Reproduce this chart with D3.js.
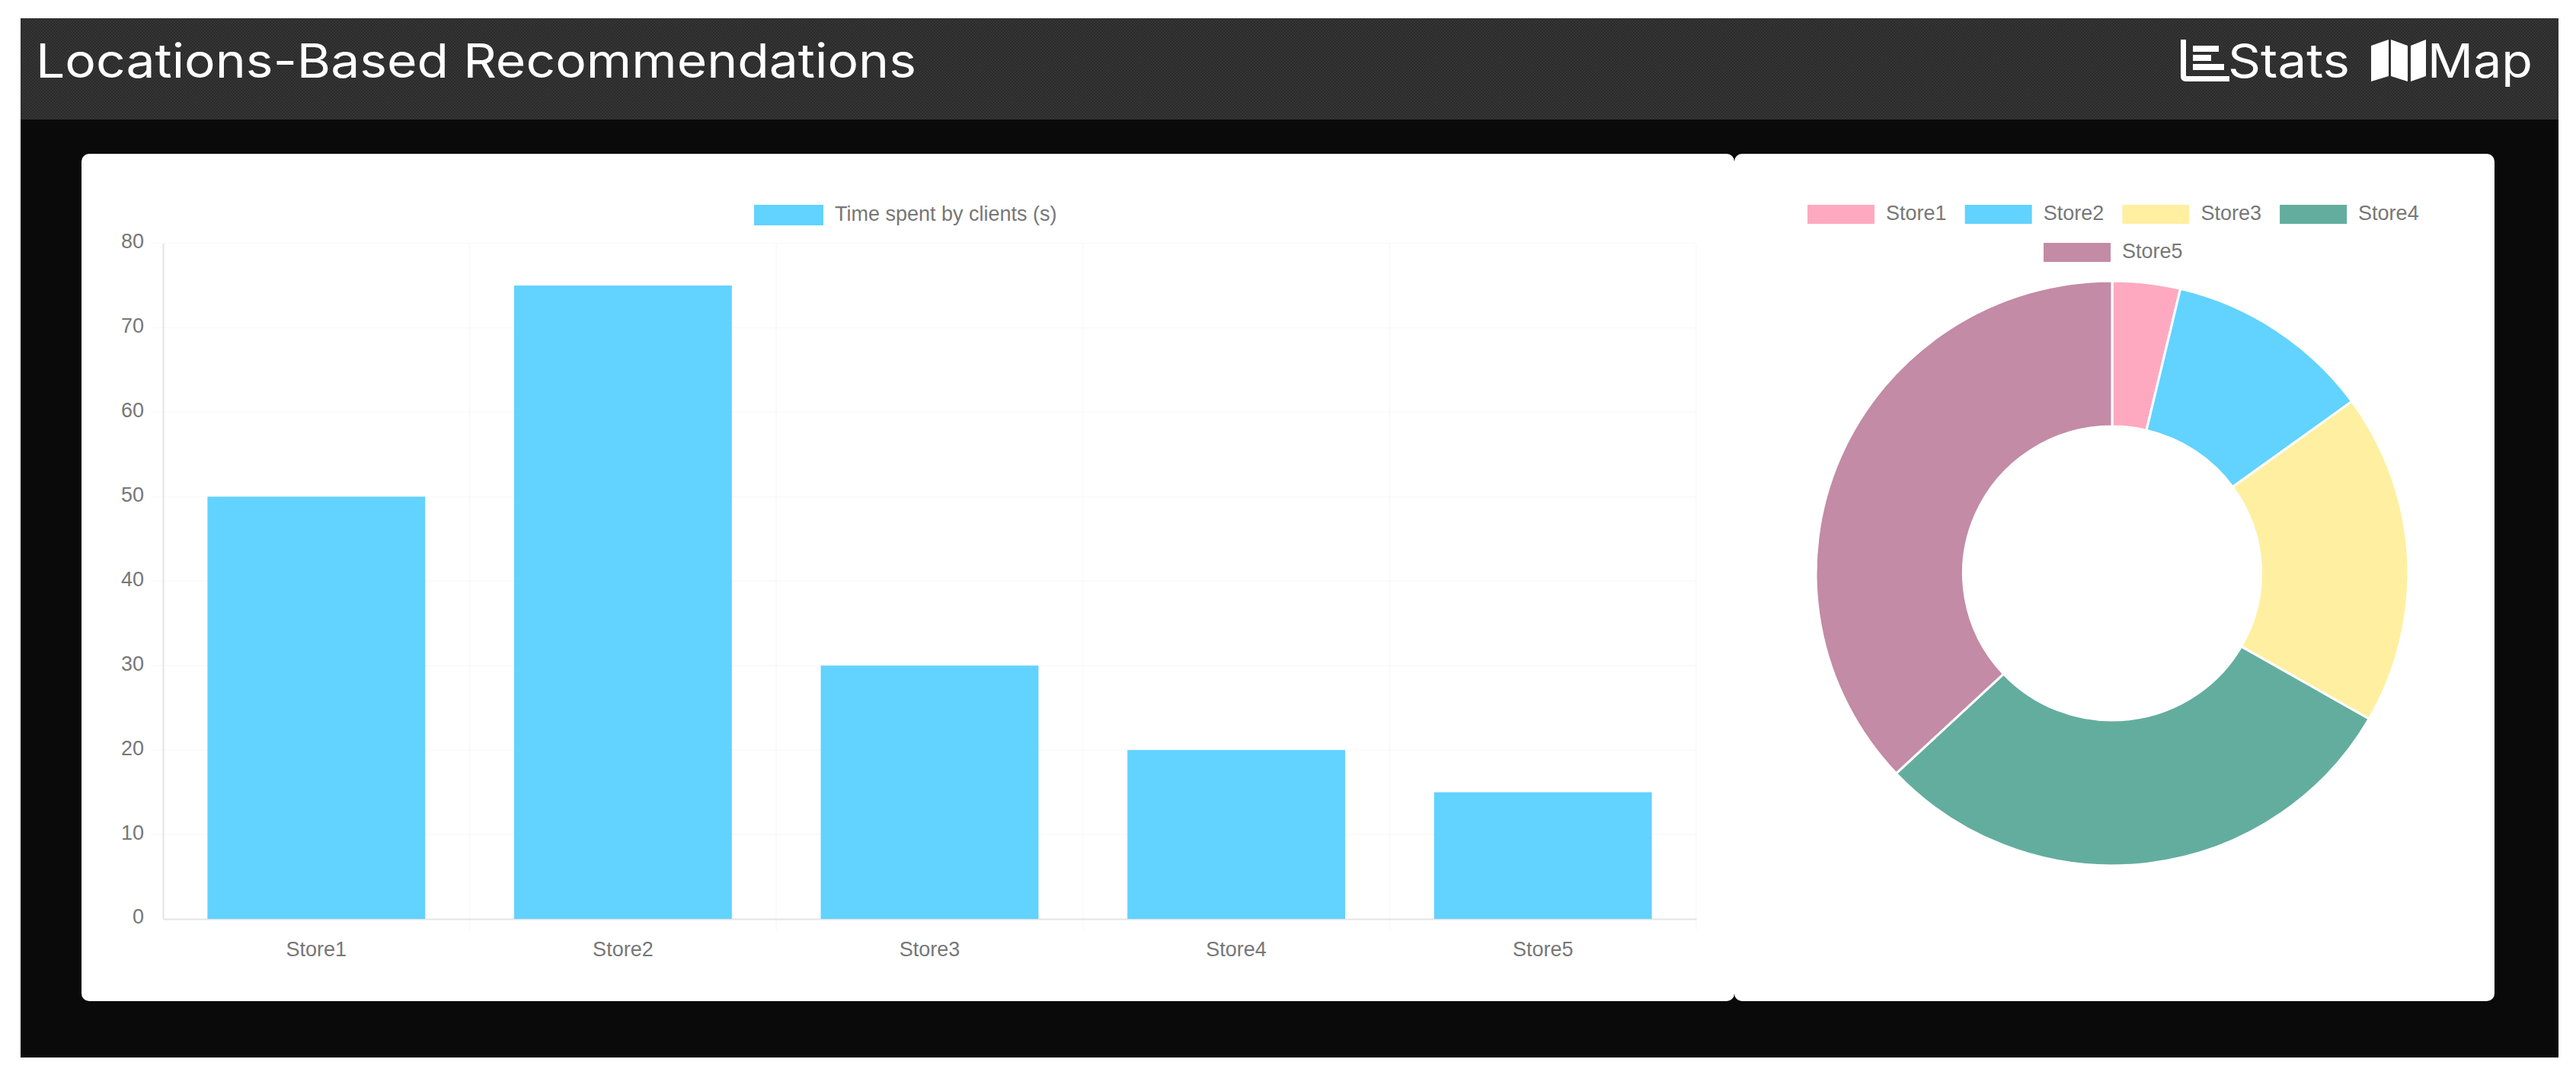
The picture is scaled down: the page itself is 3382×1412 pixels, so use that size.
<!DOCTYPE html>
<html>
<head>
<meta charset="utf-8">
<title>Locations-Based Recommendations</title>
<script src="https://cdn.jsdelivr.net/npm/d3@7"></script>
<style>
    html, body { margin: 0; padding: 0; background: #fff; }
    svg { display: block; }
    text { font-family: "Liberation Sans", Arial, sans-serif; }
    .nav-text { font-family: Inter, "Open Sans", sans-serif; fill: #fff; font-weight: 400; }
    .tick-label { font-size: 27px; fill: #777; }
    .grid line { stroke: #000; stroke-opacity: 0.02; stroke-width: 2; }
</style>
</head>
<body>
<svg id="chart" width="3382" height="1412"></svg>
<script>
const stores = ["Store1", "Store2", "Store3", "Store4", "Store5"];
const timeSpent = [50, 75, 30, 20, 15];
const shareValues = [3.7, 11.3, 18.3, 29.7, 37];
const yTicks = [0, 10, 20, 30, 40, 50, 60, 70, 80];
const shareColors = ["#ffa9c0", "#62d2ff", "#ffefa1", "#63ad9f", "#c38ba5"];
const barColor = "#62d2ff";
const barLegendLabel = "Time spent by clients (s)";
const pageTitle = "Locations-Based Recommendations";

const svg = d3.select("#chart");

// Fine dither seen on the dark header
const defs = svg.append("defs");
const dither = defs.append("pattern").attr("id", "dither")
    .attr("width", 4).attr("height", 4).attr("patternUnits", "userSpaceOnUse");
dither.append("rect").attr("width", 4).attr("height", 4).attr("fill", "#2b2b2b");
dither.append("rect").attr("width", 2).attr("height", 2).attr("fill", "#353535");
dither.append("rect").attr("x", 2).attr("y", 2).attr("width", 2).attr("height", 2).attr("fill", "#353535");

// Page background and header
svg.append("rect").attr("x", 27).attr("y", 24).attr("width", 3332).attr("height", 1365).attr("fill", "#0a0a0a");
svg.append("rect").attr("x", 27).attr("y", 24).attr("width", 3332).attr("height", 133).attr("fill", "url(#dither)");

// Two cards side by side, the rounded corners leave the small notches where they meet
svg.append("rect").attr("x", 107).attr("y", 202).attr("width", 2170).attr("height", 1113).attr("rx", 10).attr("fill", "#fff");
svg.append("rect").attr("x", 2277).attr("y", 202).attr("width", 998).attr("height", 1113).attr("rx", 10).attr("fill", "#fff");

// Header texts
svg.append("text").attr("class", "nav-text").attr("x", 47).attr("y", 102)
    .attr("font-size", 62).attr("textLength", 1156).attr("lengthAdjust", "spacingAndGlyphs")
    .text(pageTitle);
svg.append("text").attr("class", "nav-text").attr("x", 2925).attr("y", 102)
    .attr("font-size", 62).attr("textLength", 160).attr("lengthAdjust", "spacingAndGlyphs")
    .text("Stats");
svg.append("text").attr("class", "nav-text").attr("x", 3187).attr("y", 102)
    .attr("font-size", 62).attr("textLength", 138).attr("lengthAdjust", "spacingAndGlyphs")
    .text("Map");

// Stats icon
const statsIcon = svg.append("g").attr("fill", "#fff");
statsIcon.append("path")
    .attr("d", "M2863 52h7v47q0 1 1 1h56v7h-57q-7 0-7-7z");
statsIcon.append("rect").attr("x", 2879).attr("y", 60).attr("width", 34).attr("height", 8);
statsIcon.append("rect").attr("x", 2879).attr("y", 72).attr("width", 24).attr("height", 8);
statsIcon.append("rect").attr("x", 2879).attr("y", 84).attr("width", 41).attr("height", 8);

// Map icon
const mapIcon = svg.append("g").attr("fill", "#fff");
mapIcon.append("path").attr("d", "M3113 60l23-8v48l-23 7z");
mapIcon.append("path").attr("d", "M3139 52l22 8v47l-22-7z");
mapIcon.append("path").attr("d", "M3165 60l20-8v48l-20 7z");

// Bar chart
const x = d3.scaleBand().domain(stores).range([214, 2227]).paddingInner(0).paddingOuter(0);
const y = d3.scaleLinear().domain([0, 80]).range([1207, 319.6]);
const barWidth = x.bandwidth() * 0.71;

const grid = svg.append("g").attr("class", "grid");
grid.selectAll(".h").data(yTicks.slice(1)).enter().append("line")
    .attr("x1", 198).attr("x2", 2227)
    .attr("y1", d => y(d)).attr("y2", d => y(d));
grid.selectAll(".v").data(stores).enter().append("line")
    .attr("x1", d => x(d) + x.bandwidth()).attr("x2", d => x(d) + x.bandwidth())
    .attr("y1", y(80)).attr("y2", 1222);

const yAxis = svg.append("g")
    .attr("transform", "translate(214,0)")
    .call(d3.axisLeft(y).tickValues(yTicks).tickSize(0).tickPadding(25));
yAxis.select(".domain").attr("stroke", "#e4e4e4").attr("stroke-width", 2);
yAxis.selectAll("text").attr("class", "tick-label").attr("dy", "0.22em");

const xAxis = svg.append("g")
    .attr("transform", "translate(0,1207)")
    .call(d3.axisBottom(x).tickSize(0).tickPadding(30));
xAxis.select(".domain").attr("stroke", "#e4e4e4").attr("stroke-width", 2);
xAxis.selectAll("text").attr("class", "tick-label");

svg.selectAll(".bar").data(timeSpent).enter().append("rect")
    .attr("class", "bar")
    .attr("x", (d, i) => x(stores[i]) + (x.bandwidth() - barWidth) / 2)
    .attr("y", d => y(d))
    .attr("width", barWidth)
    .attr("height", d => y(0) - y(d))
    .attr("fill", barColor);

// Bar legend
svg.append("rect").attr("x", 990).attr("y", 269).attr("width", 91).attr("height", 27).attr("fill", barColor);
svg.append("text").attr("class", "tick-label").attr("x", 1096).attr("y", 290).text(barLegendLabel);

// Doughnut, the picture is a little wider than tall
const pie = d3.pie().sort(null).value(d => d);
const arc = d3.arc().innerRadius(193).outerRadius(384);
const doughnut = svg.append("g").attr("transform", "translate(2773,753) scale(1.013,1)");
doughnut.selectAll("path").data(pie(shareValues)).enter().append("path")
    .attr("d", arc)
    .attr("fill", (d, i) => shareColors[i])
    .attr("stroke", "#fff")
    .attr("stroke-width", 3);

// Doughnut legend, four items on the first row and one on the second
const legendItems = stores.map((s, i) => ({
    label: s,
    color: shareColors[i],
    left: i < 4 ? 2373 + i * 206.7 : 2683,
    top: i < 4 ? 269 : 319
}));
const legend = svg.selectAll(".legend-item").data(legendItems).enter().append("g").attr("class", "legend-item");
legend.append("rect")
    .attr("x", d => d.left).attr("y", d => d.top)
    .attr("width", 88).attr("height", 25)
    .attr("fill", d => d.color);
legend.append("text").attr("class", "tick-label")
    .attr("x", d => d.left + 103).attr("y", d => d.top + 20)
    .text(d => d.label);
</script>
</body>
</html>
